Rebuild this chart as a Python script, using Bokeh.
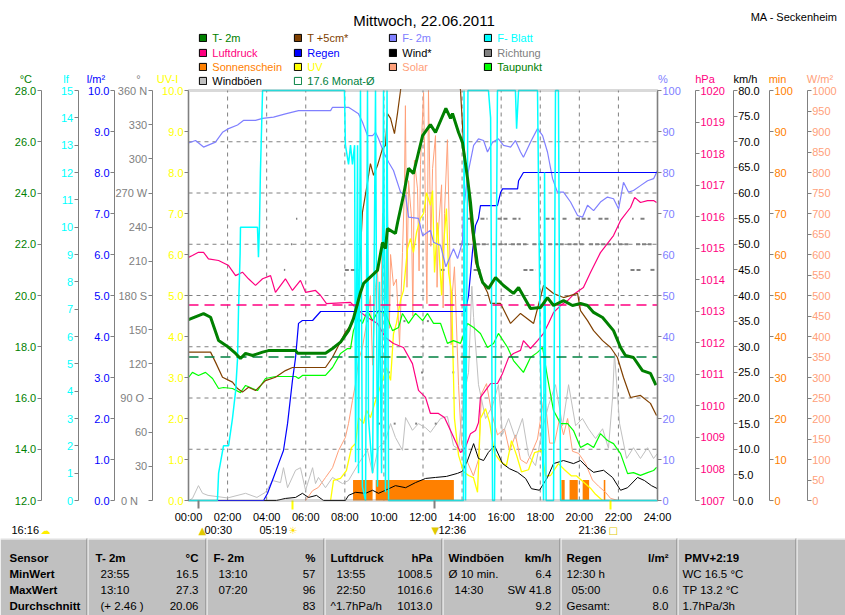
from bokeh.plotting import figure
from bokeh.models import (Range1d, LinearAxis, FixedTicker, Label, Legend, LegendItem,
                          NumeralTickFormatter, BoxAnnotation)
from bokeh.embed import file_html
from bokeh.resources import INLINE

FONT = "Liberation Sans"
GRAY = "#808080"
NAN = float("nan")

# ---------------------------------------------------------------- data
hour_ticks = list(range(0, 25, 2))
hour_labels = ["%02d:00" % h for h in hour_ticks]
moon_ticks = [0.5, 12.6]          # moonrise 00:30, moonset 12:36
sun_ticks = [5.317, 21.6]         # sunrise 05:19, sunset 21:36

temp_ticks = list(range(12, 29, 2))
lf_ticks = list(range(0, 16))
rain_ticks = list(range(0, 11))
dir_ticks = list(range(0, 361, 30))
dir_labels = ["0    N", "30", "60", "90  O", "120", "150", "180 S", "210", "240",
              "270 W", "300", "330", "360 N"]
uv_ticks = list(range(0, 11))
hum_ticks = list(range(0, 101, 10))
hpa_ticks = list(range(1007, 1021))
kmh_ticks = list(range(0, 81, 5))
min_ticks = list(range(0, 101, 10))
wm2_ticks = list(range(0, 1001, 50))

month_avg = 17.6
pressure_mean = 1013.2

t2m = [(0.0, 19.06), (0.77, 19.29), (1.13, 19.15), (1.54, 18.24), (2.05, 17.98), (2.41, 17.74),
       (2.66, 17.54), (2.92, 17.74), (3.28, 17.66), (3.79, 17.79), (4.09, 17.85), (5.48, 17.85),
       (5.58, 17.75), (7.01, 17.75), (7.37, 17.93), (7.78, 18.18), (8.19, 18.63), (8.44, 19.10),
       (8.65, 19.69), (8.80, 20.12), (8.96, 20.47), (9.67, 20.98), (9.93, 22.07), (10.08, 21.83),
       (10.18, 22.61), (10.59, 22.42), (10.70, 22.85), (11.00, 23.90), (11.26, 24.96),
       (11.51, 24.76), (11.77, 25.58), (11.98, 26.24), (12.38, 26.67), (12.64, 26.36),
       (13.17, 27.30), (13.41, 26.91), (13.51, 27.10), (13.82, 26.36), (14.02, 25.97),
       (14.28, 24.57), (14.43, 23.63), (14.59, 22.34), (14.79, 21.17), (15.05, 20.51),
       (15.35, 20.27), (15.71, 20.70), (16.12, 20.39), (16.63, 20.08), (16.89, 20.31),
       (17.50, 19.49), (18.01, 19.53), (18.37, 19.92), (18.68, 19.61), (19.19, 19.80),
       (19.65, 19.61), (20.06, 19.69), (20.42, 19.61), (20.73, 19.34), (21.19, 19.14),
       (21.75, 18.63), (22.11, 17.97), (22.36, 17.66), (22.77, 17.58), (23.23, 17.07),
       (23.64, 16.96), (23.92, 16.50)]

t5cm = [(0.0, 17.79), (1.13, 17.79), (1.38, 17.40), (1.74, 16.81), (2.25, 16.62), (2.51, 16.37),
        (2.76, 16.23), (3.07, 16.42), (3.43, 16.29), (3.94, 16.68), (4.45, 16.81), (4.96, 17.07),
        (5.32, 17.19), (7.01, 17.19), (7.37, 17.59), (7.68, 18.05), (8.03, 18.57), (8.39, 18.91),
        (8.55, 19.54), (8.70, 20.20), (8.90, 23.24), (9.16, 24.41), (9.31, 25.15), (9.47, 24.69),
        (9.67, 25.07), (9.93, 25.74), (10.08, 25.85), (10.18, 27.10), (10.34, 26.91),
        (10.54, 26.32), (10.70, 27.14), (10.85, 28.0), (11.1, 29.5), (11.9, 30.5), (12.9, 31.0),
        (13.66, 29.5), (13.92, 28.0), (14.07, 25.97), (14.28, 24.41), (14.43, 23.00),
        (14.69, 21.29), (14.94, 20.66), (15.30, 20.12), (15.46, 19.69), (15.97, 19.69),
        (16.48, 18.91), (16.99, 19.30), (17.66, 18.91), (18.17, 20.39), (18.68, 20.08),
        (19.19, 19.92), (19.91, 20.08), (20.06, 19.41), (20.42, 19.02), (20.73, 18.63),
        (21.19, 18.24), (21.60, 17.97), (21.95, 17.58), (22.26, 16.80), (22.62, 16.02),
        (23.13, 16.10), (23.64, 15.79), (23.95, 15.32)]

dewpoint = [(0.0, 16.80), (0.20, 17.00), (0.51, 16.88), (0.87, 17.00), (1.23, 16.76), (1.54, 16.37),
            (1.79, 16.41), (2.25, 16.37), (2.66, 16.21), (2.92, 16.49), (3.28, 16.37), (3.53, 16.29),
            (3.94, 16.76), (4.45, 16.84), (5.48, 16.84), (5.63, 16.76), (5.83, 16.88), (7.01, 16.88),
            (7.37, 17.19), (7.78, 17.74), (8.14, 17.93), (8.29, 17.93), (8.44, 18.63), (8.70, 19.14),
            (8.90, 18.91), (9.16, 19.41), (9.42, 19.02), (9.72, 19.41), (10.08, 19.30),
            (10.44, 18.63), (10.75, 18.75), (10.95, 19.30), (11.26, 18.91), (11.62, 19.30),
            (11.98, 19.02), (12.23, 19.30), (12.54, 18.91), (12.90, 18.91), (13.25, 18.13),
            (13.56, 18.24), (13.92, 18.13), (14.28, 18.91), (14.59, 18.75), (14.94, 18.52),
            (15.30, 17.97), (15.61, 18.13), (15.86, 18.52), (16.33, 17.97), (16.63, 17.46),
            (17.14, 17.00), (17.50, 17.58), (17.86, 17.78), (18.12, 17.97), (18.37, 16.80),
            (18.68, 15.51), (19.04, 15.00), (19.40, 15.00), (19.70, 14.73), (20.06, 14.07),
            (20.42, 14.22), (20.73, 14.07), (21.08, 14.61), (21.44, 14.34), (21.75, 14.22),
            (22.11, 13.83), (22.47, 13.05), (22.77, 13.09), (23.13, 12.98), (23.49, 13.09),
            (23.80, 13.17), (23.95, 13.29)]

humidity = [(0.0, 87.2), (0.36, 87.8), (0.77, 86.2), (1.38, 87.4), (1.74, 89.8), (2.05, 90.7),
            (2.51, 91.6), (2.81, 92.7), (3.43, 92.7), (3.79, 93.2), (4.35, 93.5), (4.96, 94.3),
            (5.63, 95.1), (7.27, 95.1), (7.37, 95.9), (8.19, 95.9), (8.70, 94.3), (8.90, 92.3),
            (9.16, 89.0), (9.42, 89.0), (9.57, 89.8), (9.72, 88.3), (9.98, 85.0), (10.24, 82.5),
            (10.49, 80.5), (10.85, 75.2), (11.11, 74.4), (11.26, 69.1), (11.77, 68.8),
            (11.98, 64.6), (12.38, 65.9), (12.54, 63.0), (12.90, 62.2), (13.17, 57.0),
            (13.56, 61.4), (13.77, 59.0), (14.02, 63.0), (14.07, 70.3), (14.28, 79.3),
            (14.59, 86.6), (14.84, 88.2), (15.10, 87.8), (15.30, 85.0), (15.56, 87.4),
            (15.86, 88.2), (16.12, 86.6), (16.48, 86.2), (16.73, 87.8), (16.99, 85.0),
            (17.14, 83.7), (17.50, 87.4), (17.86, 90.7), (18.12, 89.0), (18.37, 85.0),
            (18.63, 78.5), (18.88, 75.2), (19.19, 75.2), (19.55, 72.8), (19.91, 69.5),
            (20.16, 69.1), (20.42, 72.0), (20.73, 70.7), (21.08, 72.8), (21.44, 74.0),
            (21.75, 73.6), (22.01, 71.1), (22.26, 77.6), (22.52, 75.2), (22.77, 75.6),
            (23.13, 76.8), (23.49, 78.0), (23.80, 78.5), (24.0, 80.5)]

leaf = [(0.0, 0), (1.48, 0), (1.54, 1.0), (1.79, 2.0), (2.05, 2.0), (2.25, 3.0), (2.41, 4.0),
        (2.51, 5.2), (2.56, 7.0), (2.64, 9.0), (2.66, 10.0), (3.53, 10.0), (3.58, 8.9),
        (3.63, 10.0), (3.68, 12.0), (3.79, 15.0), (7.98, 15.0), (8.03, 13.0), (8.19, 12.3),
        (8.29, 13.0), (8.39, 12.3), (8.50, 13.0), (8.55, 1.4), (8.65, 13.0), (8.70, 1.0),
        (8.80, 15.0), (8.90, 0.5), (9.06, 0), (9.16, 15.0), (9.21, 3.0), (9.42, 1.0),
        (9.57, 15.0), (9.67, 0.5), (9.77, 8.0), (9.88, 1.0), (9.98, 15.0), (10.08, 0.3),
        (10.16, 15.0), (10.24, 0), (14.07, 0), (14.10, 15.0), (14.18, 0), (14.30, 15.0),
        (15.35, 15.0), (15.46, 14.0), (15.56, 0), (15.66, 0), (15.81, 15.0), (16.73, 15.0),
        (16.79, 13.6), (16.89, 15.0), (17.86, 15.0), (18.01, 5.0), (18.17, 0), (18.22, 12.0),
        (18.30, 0), (18.68, 0), (18.78, 15.0), (18.93, 15.0), (19.04, 0), (24.0, 0)]

pressure = [(0.0, 1014.71), (0.20, 1014.77), (0.51, 1014.87), (0.77, 1014.87), (1.02, 1014.66),
            (1.54, 1014.61), (2.05, 1014.45), (2.41, 1014.13), (2.76, 1014.24), (3.07, 1014.03),
            (3.43, 1013.82), (3.79, 1014.03), (4.20, 1014.13), (4.45, 1013.60), (4.96, 1014.03),
            (5.32, 1013.66), (5.73, 1013.98), (5.99, 1013.60), (6.50, 1013.66), (6.76, 1013.50),
            (7.06, 1013.24), (8.29, 1013.28), (8.70, 1013.02), (9.16, 1012.80), (9.67, 1012.61),
            (10.08, 1012.17), (10.49, 1011.98), (11.00, 1011.85), (11.46, 1011.34),
            (11.77, 1010.49), (12.13, 1010.27), (12.38, 1009.76), (12.79, 1009.76),
            (13.10, 1009.63), (13.41, 1009.22), (13.92, 1008.52), (14.17, 1008.68),
            (14.43, 1009.12), (14.69, 1009.22), (14.84, 1009.47), (14.94, 1010.27),
            (15.20, 1010.49), (15.46, 1010.71), (15.81, 1010.71), (16.07, 1011.03),
            (16.38, 1011.53), (16.63, 1011.66), (16.99, 1011.76), (17.14, 1012.07),
            (17.50, 1011.82), (17.86, 1012.07), (18.17, 1012.30), (18.42, 1012.61),
            (18.68, 1012.96), (19.04, 1013.18), (19.40, 1013.34), (19.70, 1013.53),
            (20.21, 1013.75), (20.57, 1014.23), (21.08, 1014.86), (21.75, 1015.40),
            (22.11, 1015.88), (22.62, 1016.29), (22.83, 1016.61), (23.13, 1016.45),
            (23.49, 1016.51), (23.80, 1016.51), (23.95, 1016.45)]

rain = [(0.0, 0.0), (3.84, 0.0), (4.04, 0.17), (4.35, 0.56), (4.61, 0.90), (4.86, 1.22),
        (5.07, 1.88), (5.32, 2.93), (5.48, 3.49), (5.63, 4.32), (5.83, 4.39), (6.35, 4.39),
        (6.76, 4.61), (14.17, 4.61), (14.33, 5.0), (14.53, 6.06), (14.69, 6.71), (14.84, 6.88),
        (14.94, 7.19), (15.81, 7.19), (15.97, 7.51), (16.07, 7.60), (16.84, 7.60), (16.89, 7.80),
        (17.14, 8.0), (24.0, 8.0)]

wind = [(0.0, 0), (4.5, 0), (4.96, 0.4), (5.48, 0.6), (5.83, 1.4), (6.14, 0.6), (6.55, 1.0),
        (6.91, 0), (8.03, 0), (8.19, 1.0), (8.55, 1.6), (9.06, 1.4), (9.42, 2.0), (9.72, 1.4),
        (10.08, 2.0), (10.59, 2.9), (11.11, 2.5), (11.62, 3.5), (12.13, 4.3), (12.64, 4.5),
        (13.20, 4.7), (13.77, 5.3), (14.02, 5.7), (14.28, 7.8), (14.59, 11.1), (14.84, 8.2),
        (15.10, 7.8), (15.35, 9.4), (15.66, 10.7), (16.07, 7.2), (16.43, 6.2), (16.84, 5.5),
        (17.25, 4.3), (17.55, 2.3), (17.96, 2.0), (18.37, 4.5), (18.68, 7.2), (19.19, 7.8),
        (19.70, 7.2), (20.06, 7.8), (20.42, 6.4), (20.73, 5.5), (21.24, 5.9), (21.70, 4.5),
        (22.11, 2.0), (22.47, 2.5), (22.98, 4.5), (23.33, 3.9), (23.69, 2.9), (24.0, 2.3)]

gusts = [(0.0, 0), (0.20, 0.4), (0.51, 2.9), (0.72, 1.4), (1.0, 1.0), (2.0, 0.5), (2.92, 1.4),
         (3.5, 0.6), (3.94, 1.6), (4.30, 3.9), (4.71, 3.5), (4.86, 6.4), (5.07, 2.5), (5.48, 5.9),
         (5.73, 6.4), (5.99, 2.0), (6.35, 6.4), (6.50, 3.3), (6.65, 4.5), (7.01, 2.5), (7.37, 4.5),
         (7.88, 3.3), (8.19, 3.9), (8.70, 7.2), (9.16, 9.8), (9.42, 5.3), (9.72, 10.3),
         (10.08, 11.7), (10.34, 15.0), (10.59, 12.3), (10.95, 9.8), (11.11, 16.2), (11.46, 13.7),
         (11.77, 15.0), (12.13, 14.2), (12.38, 13.3), (12.90, 16.0), (13.25, 16.4), (13.56, 10.7),
         (13.82, 10.0), (14.07, 20.0), (14.33, 25.0), (14.50, 41.8), (14.59, 35.7), (14.84, 22.6),
         (15.20, 16.0), (15.56, 18.5), (15.86, 22.6), (16.07, 12.9), (16.38, 16.0), (16.73, 12.1),
         (17.09, 16.0), (17.40, 8.8), (17.76, 6.8), (18.12, 14.0), (18.42, 18.5), (18.78, 22.6),
         (19.14, 14.6), (19.45, 22.6), (19.81, 14.6), (20.16, 16.0), (20.47, 14.0), (20.83, 12.1),
         (21.19, 14.0), (21.49, 10.2), (21.70, 20.0), (21.80, 28.7), (22.06, 15.0), (22.42, 8.2),
         (22.77, 10.3), (23.13, 8.2), (23.49, 10.3), (23.80, 8.2), (24.0, 9.2)]

uv = [(7.27, 0), (7.42, 0.49), (7.78, 0.54), (8.08, 0.73), (8.34, 1.29), (8.55, 1.39), (8.70, 2.02),
      (8.96, 1.88), (9.11, 2.20), (9.31, 2.02), (9.62, 2.51), (9.98, 3.00), (10.13, 3.24),
      (10.34, 2.93), (10.49, 4.07), (10.64, 4.32), (10.85, 4.88), (11.00, 5.12), (11.21, 6.15),
      (11.36, 6.39), (11.51, 6.05), (11.67, 6.54), (11.87, 6.88), (12.03, 7.00), (12.18, 7.51),
      (12.38, 7.20), (12.49, 7.56), (12.59, 5.56), (12.74, 6.78), (12.95, 5.00), (13.05, 6.22),
      (13.20, 7.12), (13.31, 5.56), (13.46, 5.07), (13.61, 2.00), (13.82, 1.10), (14.07, 0.71),
      (14.33, 0.61), (14.58, 0.56), (14.79, 0.20), (14.94, 2.00), (15.20, 2.24), (15.41, 1.90),
      (15.66, 1.15), (15.97, 0.95), (16.27, 0.85), (16.53, 1.46), (16.79, 1.10), (17.04, 0.70),
      (17.40, 0.75), (17.71, 1.17), (18.07, 1.22), (18.27, 0.60), (18.53, 0.61), (18.93, 0.90),
      (19.24, 0.75), (19.60, 0.60), (19.86, 0.60), (20.21, 0.45), (20.57, 0.30), (20.83, 0.15),
      (21.19, 0.0)]

solar = [(5.99, 0), (6.35, 24), (6.65, 32), (7.01, 56), (7.37, 80), (7.68, 122), (8.03, 154),
         (8.19, 188), (8.39, 244), (8.55, 285), (8.70, 341), (8.90, 373), (9.16, 446), (9.31, 500),
         (9.42, 330), (9.57, 520), (9.67, 560), (9.82, 380), (9.93, 700), (10.08, 493),
         (10.18, 720), (10.28, 420), (10.34, 600), (10.49, 524), (10.64, 540), (10.80, 380),
         (10.95, 605), (11.05, 760), (11.10, 963), (11.18, 520), (11.26, 780), (11.41, 690),
         (11.48, 450), (11.56, 830), (11.72, 760), (11.80, 560), (11.87, 820), (12.03, 995),
         (12.13, 700), (12.20, 480), (12.28, 1000), (12.40, 620), (12.49, 810), (12.64, 890),
         (12.72, 520), (12.79, 660), (12.95, 770), (13.03, 470), (13.10, 700), (13.25, 880),
         (13.36, 630), (13.44, 380), (13.51, 510), (13.61, 570), (13.82, 280), (13.97, 140),
         (14.22, 100), (14.58, 60), (14.84, 100), (14.99, 260), (15.25, 285), (15.51, 215),
         (15.81, 160), (16.17, 175), (16.43, 120), (16.73, 160), (16.99, 100), (17.30, 90),
         (17.55, 115), (17.86, 150), (18.07, 215), (18.22, 260), (18.48, 140), (18.73, 140),
         (18.99, 200), (19.19, 160), (19.40, 200), (19.65, 120), (19.96, 115), (20.32, 90),
         (20.67, 50), (20.98, 35), (21.34, 20), (21.60, 5), (22.0, 0)]

# sunshine minutes per 5-minute interval: (start h, end h, minutes)
sunshine = [(8.42, 9.42, 5), (9.58, 13.58, 5), (19.08, 19.25, 5), (19.50, 19.92, 5),
            (20.17, 20.50, 5), (21.25, 21.33, 5)]

# wind direction runs: (start h, end h, degrees)
direction = [(4.88, 4.95, 202.5), (5.24, 5.31, 225), (5.50, 5.57, 247.5), (8.0, 8.7, 202.5),
             (9.10, 9.20, 157.5), (9.70, 9.80, 67.5), (10.20, 10.30, 112.5), (10.40, 10.48, 180),
             (10.50, 10.60, 67.5), (11.00, 11.10, 157.5), (11.60, 11.70, 67.5),
             (11.90, 12.00, 112.5), (12.20, 12.30, 157.5), (12.60, 12.70, 67.5),
             (12.90, 13.15, 202.5), (13.50, 13.60, 112.5),
             (13.85, 14.45, 225), (14.70, 15.35, 225), (15.55, 16.30, 225), (16.50, 17.30, 225),
             (17.60, 18.10, 225), (18.40, 19.20, 225), (19.40, 20.30, 225), (20.50, 21.80, 225),
             (22.00, 22.60, 225), (22.90, 23.70, 225),
             (14.28, 14.59, 247.5), (14.94, 15.30, 247.5), (15.81, 16.33, 247.5),
             (16.58, 16.99, 247.5), (18.27, 18.78, 247.5), (19.14, 19.40, 247.5),
             (19.81, 20.57, 247.5), (20.98, 21.60, 247.5), (22.70, 22.78, 247.5),
             (23.13, 23.39, 247.5),
             (14.59, 14.94, 202.5), (17.14, 17.76, 202.5), (22.62, 23.13, 202.5),
             (23.64, 23.90, 202.5)]

# summary table
table_rows = ["Sensor", "MinWert", "MaxWert", "Durchschnitt"]
table_heads = [("T- 2m", "°C"), ("F- 2m", "%"), ("Luftdruck", "hPa"), ("Windböen", "km/h"),
               ("Regen", "l/m²"), ("PMV+2:19", "")]
table_left = [["23:55", "13:10", "(+ 2.46 )"], ["13:10", "07:20", ""],
              ["13:55", "22:50", "^1.7hPa/h"], ["Ø 10 min.", "14:30", ""],
              ["12:30 h", "05:00", "Gesamt:"], ["WC 16.5 °C", "TP 13.2 °C", "1.7hPa/3h"]]
table_right = [["16.5", "27.3", "20.06"], ["57", "96", "83"], ["1008.5", "1016.6", "1013.0"],
               ["6.4", "SW 41.8", "9.2"], ["", "0.6", "8.0"], ["", "", ""]]
events = ["16:16", "00:30", "05:19", "12:36", "21:36"]

# ---------------------------------------------------------------- geometry
W, H = 845, 615
PL, PR, PT, PB = 188.0, 657.0, 90.0, 500.0     # plot area inside the canvas
HOURS = (0, 24)
ranges = {"default": (12, 28), "lf": (0, 15), "rain": (0, 10), "dir": (0, 360),
          "uv": (0, 10), "hum": (0, 100), "hpa": (1007, 1020), "kmh": (0, 80),
          "min": (0, 100), "wm2": (0, 1000)}


def x_span(a, b):
    k = (b - a) / (PR - PL)
    return Range1d(a - PL * k, b + (W - PR) * k)


def y_span(a, b):
    k = (b - a) / (PB - PT)
    return Range1d(a - (H - PB) * k, b + PT * k)


def px_to_hour(px):
    return HOURS[0] + (px - PL) * (HOURS[1] - HOURS[0]) / (PR - PL)


p = figure(width=W, height=H, x_range=x_span(*HOURS), y_range=y_span(*ranges["default"]),
           x_axis_location=None, y_axis_location=None, toolbar_location=None,
           output_backend="svg", min_border=0, outline_line_color=None,
           background_fill_color="white", border_fill_color="white")
p.extra_y_ranges = {k: y_span(*v) for k, v in ranges.items() if k != "default"}
p.grid.visible = False

# ---------------------------------------------------------------- axes
axis_specs = [
    ("left", "uv", 188.0, uv_ticks, "#FFFF00", "0.0", None),
    ("left", "dir", 151.7, dir_ticks, GRAY, None, dir_labels),
    ("left", "rain", 114.0, rain_ticks, "#0000FF", "0.0", None),
    ("left", "lf", 77.7, lf_ticks, "#00FFFF", None, None),
    ("left", "default", 40.7, temp_ticks, "#008000", "0.0", None),
    ("right", "hum", 657.0, hum_ticks, "#8080FF", None, None),
    ("right", "hpa", 695.0, hpa_ticks, "#FF0080", None, None),
    ("right", "kmh", 732.7, kmh_ticks, "#000000", "0.0", None),
    ("right", "min", 769.0, min_ticks, "#FF8000", None, None),
    ("right", "wm2", 806.7, wm2_ticks, "#FFA07A", None, None),
]
for side, rng, px, ticks, color, fmt, labels in axis_specs:
    ax = LinearAxis(y_range_name=rng, fixed_location=px_to_hour(px), bounds=ranges[rng],
                    ticker=FixedTicker(ticks=ticks), axis_line_color=GRAY,
                    major_tick_line_color=GRAY, major_tick_out=4, major_tick_in=0,
                    minor_tick_out=0, minor_tick_in=0, major_label_standoff=1,
                    major_label_text_color=color, major_label_text_font=FONT,
                    major_label_text_font_size="11px")
    if fmt:
        ax.formatter = NumeralTickFormatter(format=fmt)
    if labels:
        ax.major_label_overrides = dict(zip(ticks, labels))
    p.add_layout(ax, side)

xa_marks = LinearAxis(fixed_location=ranges["default"][0], bounds=HOURS,
                      ticker=FixedTicker(ticks=moon_ticks, minor_ticks=sun_ticks),
                      axis_line_color=None, major_tick_line_color=GRAY, major_tick_line_width=2,
                      major_tick_out=8, major_tick_in=0, minor_tick_line_color="#FFFF00",
                      minor_tick_line_width=2, minor_tick_out=9, minor_tick_in=0,
                      major_label_text_alpha=0)
p.add_layout(xa_marks, "below")
xa = LinearAxis(fixed_location=ranges["default"][0], bounds=HOURS,
                ticker=FixedTicker(ticks=hour_ticks),
                major_label_overrides=dict(zip(hour_ticks, hour_labels)),
                axis_line_color=None, major_tick_line_color=None, major_tick_out=0,
                major_tick_in=0, minor_tick_out=0, minor_tick_in=0, major_label_standoff=10,
                major_label_text_font=FONT, major_label_text_font_size="11px",
                major_label_text_color="black")
p.add_layout(xa, "below")

# ---------------------------------------------------------------- marks


def xs(d):
    return [r[0] for r in d]


def ys(d):
    return [r[1] for r in d]


grid_hours = hour_ticks[1:-1]
grid_temps = temp_ticks[1:-1]
p.segment(x0=grid_hours, x1=grid_hours, y0=ranges["default"][0], y1=ranges["default"][1],
          line_color=GRAY, line_dash="4 4", line_width=1)
p.segment(x0=HOURS[0], x1=HOURS[1], y0=grid_temps, y1=grid_temps,
          line_color=GRAY, line_dash="4 4", line_width=1)

p.quad(left=[s[0] for s in sunshine], right=[s[1] for s in sunshine], bottom=0,
       top=[s[2] for s in sunshine], y_range_name="min", fill_color="#FF8000", line_color=None)
p.line(xs(solar), ys(solar), y_range_name="wm2", line_color="#FFA07A", line_width=1)
p.line(xs(gusts), ys(gusts), y_range_name="kmh", line_color="#C0C0C0", line_width=1)
p.segment(x0=[d[0] for d in direction], x1=[d[1] for d in direction],
          y0=[d[2] for d in direction], y1=[d[2] for d in direction], y_range_name="dir",
          line_color=GRAY, line_width=2, line_dash="4 2")
p.line(xs(uv), ys(uv), y_range_name="uv", line_color="#FFFF00", line_width=1.3)
p.line(xs(wind), ys(wind), y_range_name="kmh", line_color="black", line_width=1)
p.line(xs(dewpoint), ys(dewpoint), line_color="#00FF00", line_width=1.2)
p.line(xs(humidity), ys(humidity), y_range_name="hum", line_color="#8080FF", line_width=1.2)
p.line(xs(rain), ys(rain), y_range_name="rain", line_color="#0000FF", line_width=1.2)
p.line(xs(pressure), ys(pressure), y_range_name="hpa", line_color="#FF0080", line_width=1.2)
p.line(xs(t5cm), ys(t5cm), line_color="#804000", line_width=1.2)
p.line(xs(leaf), ys(leaf), y_range_name="lf", line_color="#00FFFF", line_width=1.5)
p.segment(x0=HOURS[0], x1=HOURS[1], y0=month_avg, y1=month_avg,
          line_color="#008040", line_dash="10 6", line_width=1.5)
p.segment(x0=HOURS[0], x1=HOURS[1], y0=pressure_mean, y1=pressure_mean, y_range_name="hpa",
          line_color="#FF0080", line_dash="10 6", line_width=1.5)
p.line(xs(t2m), ys(t2m), line_color="#008000", line_width=3)


def sbox(left, right, top, bottom, **kw):
    """box in canvas pixels measured from the top-left corner"""
    p.add_layout(BoxAnnotation(left=left, right=right, top=H - top, bottom=H - bottom,
                               left_units="screen", right_units="screen",
                               top_units="screen", bottom_units="screen", **kw))


# white mask above the plot area (hides off-scale excursions), then the plot border
sbox(PL + 1.5, PR - 1.5, 0, PT - 1.5, fill_color="white", fill_alpha=1, line_color=None)
p.add_layout(BoxAnnotation(left=HOURS[0], right=HOURS[1], bottom=ranges["default"][0],
                           top=ranges["default"][1], fill_alpha=0, line_color=GRAY,
                           line_width=3))

# ---------------------------------------------------------------- legend
legend_spec = [
    ("T- 2m", "#008000", "#008000", 0, 0),
    ("Luftdruck", "#FF0080", "#FF0080", 0, 1),
    ("Sonnenschein", "#FF8000", "#FF8000", 0, 2),
    ("Windböen", "#C0C0C0", "#000000", 0, 3),
    ("T +5cm*", "#804000", "#804000", 1, 0),
    ("Regen", "#0000FF", "#0000FF", 1, 1),
    ("UV", "#FFFF00", "#FFFF00", 1, 2),
    ("%.1f Monat-Ø" % month_avg, None, "#008040", 1, 3),
    ("F- 2m", "#8080FF", "#8080FF", 2, 0),
    ("Wind*", "#000000", "#000000", 2, 1),
    ("Solar", "#FFA07A", "#FFA07A", 2, 2),
    ("F- Blatt", "#00FFFF", "#00FFFF", 3, 0),
    ("Richtung", "#808080", "#808080", 3, 1),
    ("Taupunkt", "#00FF00", "#008000", 3, 2),
]
col_x = [198.3, 293.3, 388.3, 483.3]
row_c = [37.8, 52.5, 66.7, 80.8]
for text, fill, tcol, c, r in legend_spec:
    icon = p.quad(left=[NAN], right=[NAN], top=[NAN], bottom=[NAN], fill_color=fill,
                  line_color="black" if fill else "#008040", line_width=1)
    leg = Legend(items=[LegendItem(label=text, renderers=[icon])],
                 location=(col_x[c], H - (row_c[r] + 6.5)),
                 glyph_width=9, glyph_height=9, label_height=13, label_standoff=5,
                 padding=0, margin=0, spacing=0, border_line_color=None,
                 background_fill_alpha=0, label_text_font=FONT, label_text_font_size="11px",
                 label_text_color=tcol)
    p.add_layout(leg)


# ---------------------------------------------------------------- texts
def label(text, x, baseline, color="black", size="11px", align="left", font=FONT, style="normal"):
    p.add_layout(Label(text=text, x=x, y=H - baseline, x_units="screen", y_units="screen",
                       text_color=color, text_font=font, text_font_size=size,
                       text_align=align, text_baseline="alphabetic", text_font_style=style))


label("Mittwoch, 22.06.2011", 423.5, 20, size="15px", align="center")
label("MA - Seckenheim", 837, 16.7, align="right")
units = [("°C", 25.3, "#008000"), ("lf", 65.5, "#00FFFF"), ("l/m²", 95.5, "#0000FF"),
         ("°", 138, GRAY), ("UV-I", 167, "#FFFF00"), ("%", 662.5, "#8080FF"),
         ("hPa", 704.5, "#FF0080"), ("km/h", 745, "#000000"), ("min", 777, "#FF8000"),
         ("W/m²", 819.5, "#FFA07A")]
for text, x, col in units:
    label(text, x, 78, color=col, align="center")

event_x = [11, 204, 259, 438, 578]
for text, x in zip(events, event_x):
    label(text, x, 529.5)
icons = [("☁", 40, "#FFEE00"), ("▲", 198, "#E0C800"), ("☀", 288, "#FFE000"),
         ("▼", 431, "#E0C800"), ("□", 608, "#E0C800")]
for text, x, col in icons:
    label(text, x, 529.5, color=col, size="10px", font="DejaVu Sans")

# ---------------------------------------------------------------- table
TAB_TOP = 538
sbox(0, W, TAB_TOP, H, fill_color="#C0C0C0", fill_alpha=1, line_color=None)
sbox(0, W, TAB_TOP, TAB_TOP + 1, fill_color="white", fill_alpha=1, line_color=None)
seps = [86, 205, 323, 441, 559, 676, 795]
for s in seps:
    sbox(s, s + 1, TAB_TOP, H, fill_color=GRAY, fill_alpha=1, line_color=None)
    sbox(s + 1, s + 2, TAB_TOP, H, fill_color="white", fill_alpha=1, line_color=None)

row_base = [557.5, 573.5, 589.5, 605.5]
TS = "11.5px"
for name, b in zip(table_rows, row_base):
    label(name, 9, b, size=TS, style="bold")
head_x = [95, 213, 330, 448, 566, 684]
unit_x = [198, 315, 432, 551, 668, 0]
left_x = [[100, 100, 100], [218, 218, 218], [336, 336, 330], [448, 454, 448], [566, 571, 566],
          [682, 682, 682]]
for i, (head, unit) in enumerate(table_heads):
    label(head, head_x[i], row_base[0], size=TS, style="bold")
    if unit:
        label(unit, unit_x[i], row_base[0], size=TS, style="bold", align="right")
    for j in range(3):
        if table_left[i][j]:
            label(table_left[i][j], left_x[i][j], row_base[j + 1], size=TS)
        if table_right[i][j]:
            label(table_right[i][j], unit_x[i], row_base[j + 1], size=TS, align="right")

open("out.html", "w").write(file_html(p, INLINE))
